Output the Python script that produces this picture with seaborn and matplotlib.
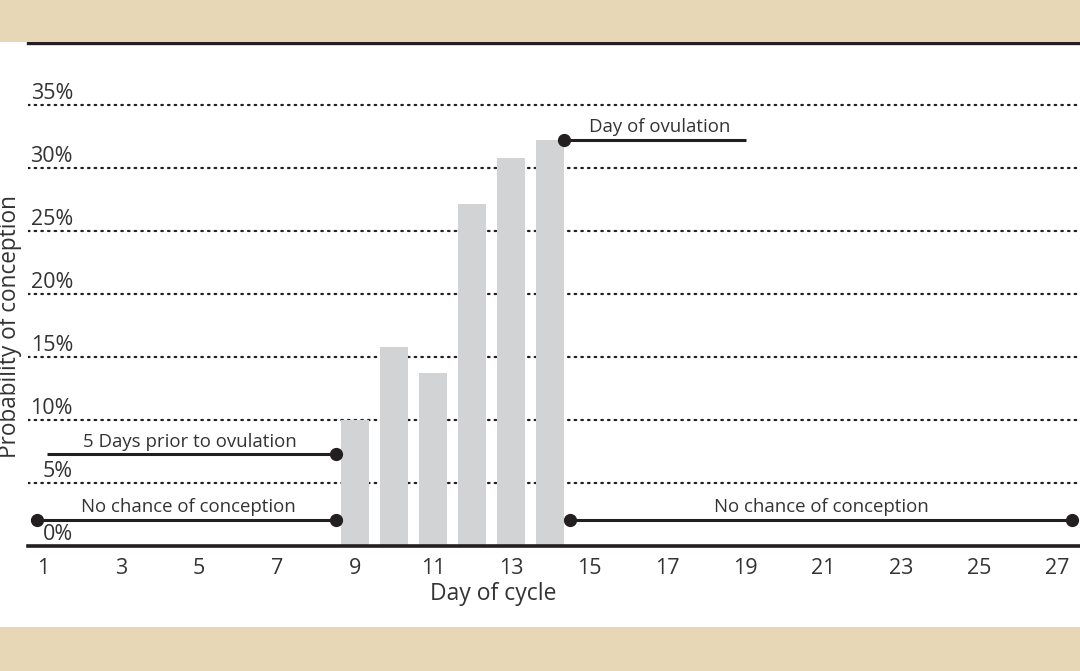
import matplotlib
matplotlib.use("Agg")
import matplotlib.pyplot as plt
from matplotlib.patches import Rectangle
import matplotlib.transforms as mtransforms
import seaborn as sns
import pandas as pd

# ---------------- data ----------------
days = [9, 10, 11, 12, 13, 14]
probability = [10.0, 15.8, 13.7, 27.1, 30.8, 32.2]
x_ticks = [1, 3, 5, 7, 9, 11, 13, 15, 17, 19, 21, 23, 25, 27]
y_grid = [5, 10, 15, 20, 25, 30, 35]
y_labels = ["0%", "5%", "10%", "15%", "20%", "25%", "30%", "35%"]
y_label_values = [0, 5, 10, 15, 20, 25, 30, 35]

# annotation spans: (label, start day, end day, level %, dot at start, dot at end, label day, label level)
ann_labels = ["No chance of conception", "5 Days prior to ovulation",
              "Day of ovulation", "No chance of conception"]
ann_start = [0.85, 1.1, 14.36, 14.5]
ann_end = [8.5, 8.5, 19.03, 27.38]
ann_level = [2.1, 7.3, 32.2, 2.1]
ann_dot_start = [True, False, True, True]
ann_dot_end = [True, True, False, True]
ann_text_day = [4.72, 4.77, 16.8, 20.95]
ann_text_level = [3.1, 8.25, 33.2, 3.1]

# ---------------- style ----------------
sns.set_theme(style="white")
plt.rcParams["font.family"] = ["Open Sans", "DejaVu Sans"]

BEIGE = "#E8D7B7"
BAR = "#D2D3D5"
INK = "#231F20"
TXT = "#333333"

W, H = 1080, 671
fig = plt.figure(figsize=(W / 100, H / 100), dpi=100)
fig.patch.set_facecolor("white")
fig.patches.append(Rectangle((0, 1 - 42 / H), 1, 42 / H, transform=fig.transFigure,
                             facecolor=BEIGE, edgecolor="none", zorder=0))
fig.patches.append(Rectangle((0, 0), 1, 44 / H, transform=fig.transFigure,
                             facecolor=BEIGE, edgecolor="none", zorder=0))

ax_left, ax_right = 28 / W, 1.0
ax_bottom, ax_top = (H - 546) / H, (H - 43) / H
ax = fig.add_axes([ax_left, ax_bottom, ax_right - ax_left, ax_top - ax_bottom])
ax.set_facecolor("none")

df = pd.DataFrame({"day": days, "prob": probability})
sns.barplot(data=df, x="day", y="prob", native_scale=True, width=0.72,
            color=BAR, saturation=1, ax=ax, zorder=2, linewidth=0)

ax.set_xlim(0.615, 27.59)
ax.set_ylim(0, 39.9)

# dotted gridlines
for g in y_grid:
    ax.axhline(g, color=INK, lw=1.6, linestyle=(0, (0.7, 2.3)),
               dash_capstyle="round", zorder=1)

# spines
for s in ["left", "right"]:
    ax.spines[s].set_visible(False)
ax.spines["top"].set_color(INK)
ax.spines["top"].set_linewidth(2.4)
ax.spines["bottom"].set_color(INK)
ax.spines["bottom"].set_linewidth(2.6)

# ticks
ax.set_xticks(x_ticks)
ax.set_xticklabels([str(t) for t in x_ticks], fontsize=15.5, color=TXT)
ax.tick_params(axis="x", length=0, pad=9)
ax.set_yticks([])
ax.set_xlabel("")
ax.set_ylabel("")

# y tick labels above gridlines, right aligned
trans = mtransforms.blended_transform_factory(ax.transAxes, ax.transData)
for v, lab in zip(y_label_values, y_labels):
    ax.text((73 - 28) / 1052, v + 0.9, lab, transform=trans, ha="right",
            va="center", fontsize=15.5, color=TXT)

# annotations
for lab, s, e, lv, ds, de, tx, ty in zip(ann_labels, ann_start, ann_end, ann_level,
                                          ann_dot_start, ann_dot_end,
                                          ann_text_day, ann_text_level):
    ax.plot([s, e], [lv, lv], color=INK, lw=2.2, solid_capstyle="butt", zorder=4,
            clip_on=False)
    dx = [p for p, d in zip([s, e], [ds, de]) if d]
    if dx:
        ax.plot(dx, [lv] * len(dx), "o", color=INK, markersize=8.5, zorder=5,
                clip_on=False)
    ax.text(tx, ty, lab, ha="center", va="center", fontsize=13.4, color=TXT, zorder=5)

# axis titles
fig.text(493 / W, 1 - 594 / H, "Day of cycle", ha="center", va="center",
         fontsize=16.5, color=TXT)
fig.text(10 / W, 1 - 326 / H, "Probability of conception", ha="center", va="center",
         rotation=90, fontsize=16.3, color=TXT)

fig.savefig("out.png", dpi=100, facecolor=fig.get_facecolor())
